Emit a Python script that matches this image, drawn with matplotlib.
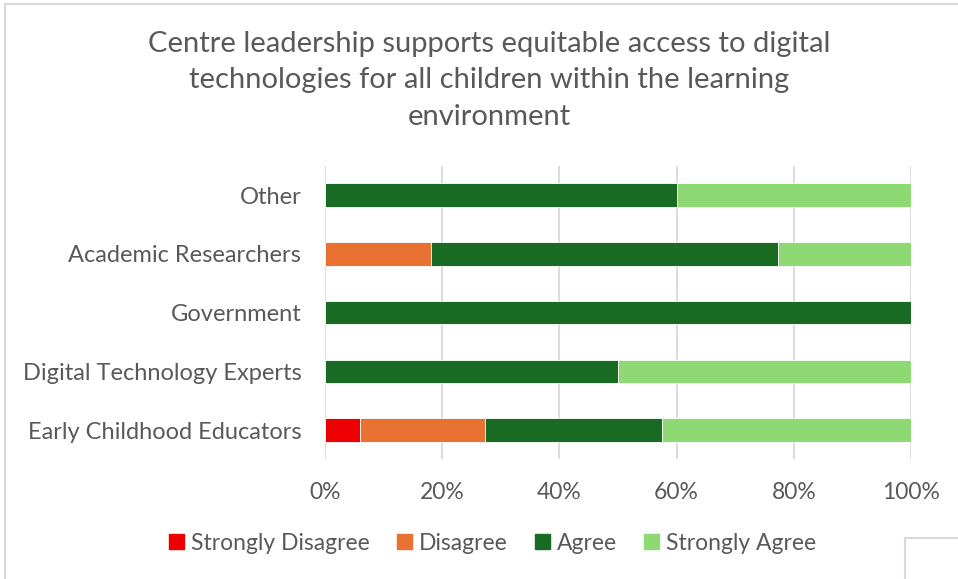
import matplotlib.pyplot as plt
from matplotlib.lines import Line2D
from matplotlib.patches import Patch
from matplotlib.ticker import PercentFormatter

plt.rcParams['font.family'] = ['Lato', 'DejaVu Sans']

# responses per group, as share of respondents (%)
groups = ["Early Childhood Educators", "Digital Technology Experts",
          "Government", "Academic Researchers", "Other"]
strongly_disagree = [6.06, 0, 0, 0, 0]
disagree = [21.21, 0, 0, 18.18, 0]
agree = [30.30, 50.0, 100.0, 59.09, 60.0]
strongly_agree = [42.42, 50.0, 0, 22.73, 40.0]

series = [
    ("Strongly Disagree", strongly_disagree, "#EE0000"),
    ("Disagree", disagree, "#E97132"),
    ("Agree", agree, "#196B24"),
    ("Strongly Agree", strongly_agree, "#8ED973"),
]
text_col = "#595959"

fig = plt.figure(figsize=(9.58, 5.79), dpi=100)
ax = fig.add_axes([0.3392, 0.2066, 0.6117, 0.5073])

left = [0] * len(groups)
for name, vals, col in series:
    ax.barh(groups, vals, left=left, height=0.4, color=col,
            edgecolor="white", linewidth=0.6, label=name, zorder=3)
    left = [a + b for a, b in zip(left, vals)]

ax.set_xlim(0, 100)
ax.set_ylim(-0.5, len(groups) - 0.5)
ax.set_xticks(range(0, 101, 20))
ax.xaxis.set_major_formatter(PercentFormatter(decimals=0))
ax.grid(axis="x", color="#D9D9D9", linewidth=1.3, zorder=0)
for s in ax.spines.values():
    s.set_visible(False)
ax.tick_params(length=0, labelsize=16.5, colors=text_col)
ax.tick_params(axis="y", pad=17, labelsize=17)
ax.tick_params(axis="x", pad=16)

fig.text(0.511, 0.947,
         "Centre leadership supports equitable access to digital\n"
         "technologies for all children within the learning\nenvironment",
         ha="center", va="top", fontsize=21, color=text_col, linespacing=1.5)

handles = [Patch(color=c) for _, _, c in series]
fig.legend(handles, [n for n, _, _ in series], loc="center",
           bbox_to_anchor=(0.514, 0.062), ncol=4, frameon=False,
           fontsize=16.5, labelcolor=text_col, handlelength=0.65,
           handleheight=0.65, handletextpad=0.3, columnspacing=1.2)

# chart frame edges and neighbouring box corner
frame = dict(color="#D9D9D9", linewidth=1.5, transform=fig.transFigure)
fig.add_artist(Line2D([5 / 958, 5 / 958], [0, 1 - 4 / 579], **frame))
fig.add_artist(Line2D([5 / 958, 1], [1 - 4 / 579, 1 - 4 / 579], **frame))
fig.add_artist(Line2D([905 / 958, 905 / 958], [0, 1 - 538 / 579], **frame))
fig.add_artist(Line2D([905 / 958, 1], [1 - 538 / 579, 1 - 538 / 579], **frame))

fig.savefig("out.png", dpi=100)
